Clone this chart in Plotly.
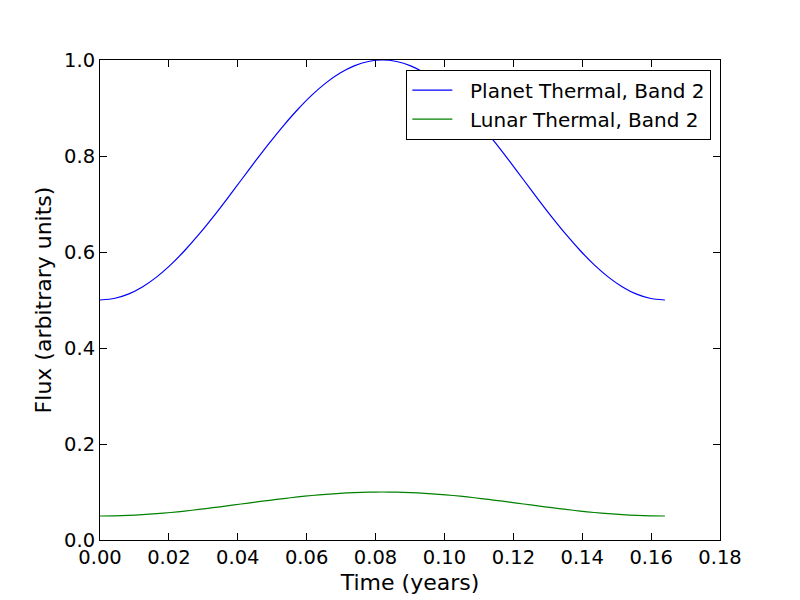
import plotly.graph_objects as go

time_years = [0.0, 0.0041, 0.0082, 0.0123, 0.0164, 0.0205, 0.0246, 0.0287, 0.0328, 0.0369,
              0.041, 0.0451, 0.0492, 0.0533, 0.0574, 0.0615, 0.0656, 0.0697, 0.0738, 0.0779,
              0.082, 0.0861, 0.0902, 0.0943, 0.0984, 0.1025, 0.1066, 0.1107, 0.1148, 0.1189,
              0.123, 0.1271, 0.1312, 0.1353, 0.1394, 0.1435, 0.1476, 0.1517, 0.1558, 0.1599, 0.164]
planet_flux = [0.5000, 0.5031, 0.5122, 0.5272, 0.5477, 0.5732, 0.6031, 0.6365, 0.6727, 0.7109,
               0.7500, 0.7891, 0.8273, 0.8635, 0.8969, 0.9268, 0.9523, 0.9728, 0.9878, 0.9969,
               1.0000, 0.9969, 0.9878, 0.9728, 0.9523, 0.9268, 0.8969, 0.8635, 0.8273, 0.7891,
               0.7500, 0.7109, 0.6727, 0.6365, 0.6031, 0.5732, 0.5477, 0.5272, 0.5122, 0.5031, 0.5000]
lunar_flux = [0.0500, 0.0503, 0.0512, 0.0527, 0.0548, 0.0573, 0.0603, 0.0637, 0.0673, 0.0711,
              0.0750, 0.0789, 0.0827, 0.0863, 0.0897, 0.0927, 0.0952, 0.0973, 0.0988, 0.0997,
              0.1000, 0.0997, 0.0988, 0.0973, 0.0952, 0.0927, 0.0897, 0.0863, 0.0827, 0.0789,
              0.0750, 0.0711, 0.0673, 0.0637, 0.0603, 0.0573, 0.0548, 0.0527, 0.0512, 0.0503, 0.0500]
series_names = ["Planet Thermal, Band 2", "Lunar Thermal, Band 2"]
x_ticks = [0.0, 0.02, 0.04, 0.06, 0.08, 0.10, 0.12, 0.14, 0.16, 0.18]
y_ticks = [0.0, 0.2, 0.4, 0.6, 0.8, 1.0]

pad = "\u00a0\u00a0"
fig = go.Figure()
fig.add_trace(go.Scatter(x=time_years, y=planet_flux, mode="lines", name=pad + series_names[0],
                         line=dict(color="#0000ff", width=1.2, shape="spline", smoothing=0.6)))
fig.add_trace(go.Scatter(x=time_years, y=lunar_flux, mode="lines", name=pad + series_names[1],
                         line=dict(color="#008000", width=1.2, shape="spline", smoothing=0.6)))

axis_common = dict(showgrid=False, zeroline=False, showline=True, linecolor="black", linewidth=1,
                   mirror="allticks", ticks="inside", ticklen=7, tickcolor="black", automargin=False,
                   tickfont=dict(family="DejaVu Sans", size=19.5, color="black"))
fig.update_xaxes(range=[0, 0.18], tickvals=x_ticks, ticktext=[f"{v:.2f}" for v in x_ticks],
                 title=dict(text="Time (years)", font=dict(family="DejaVu Sans", size=22, color="black"),
                            standoff=6), **axis_common)
fig.update_yaxes(range=[0, 1.0], tickvals=y_ticks, ticktext=[f"{v:.1f}" for v in y_ticks],
                 title=dict(text="Flux (arbitrary units)", font=dict(family="DejaVu Sans", size=22, color="black"),
                            standoff=6), **axis_common)

fig.update_layout(
    width=800, height=600,
    margin=dict(l=100, r=80, t=60, b=60, autoexpand=False),
    paper_bgcolor="white", plot_bgcolor="white",
    font=dict(family="DejaVu Sans", color="black"),
    showlegend=True,
    legend=dict(x=0.986, y=0.98, xanchor="right", yanchor="top",
                bordercolor="black", borderwidth=1, bgcolor="white",
                font=dict(family="DejaVu Sans", size=20, color="black"),
                itemwidth=40),
)

fig.write_html("out.html")
